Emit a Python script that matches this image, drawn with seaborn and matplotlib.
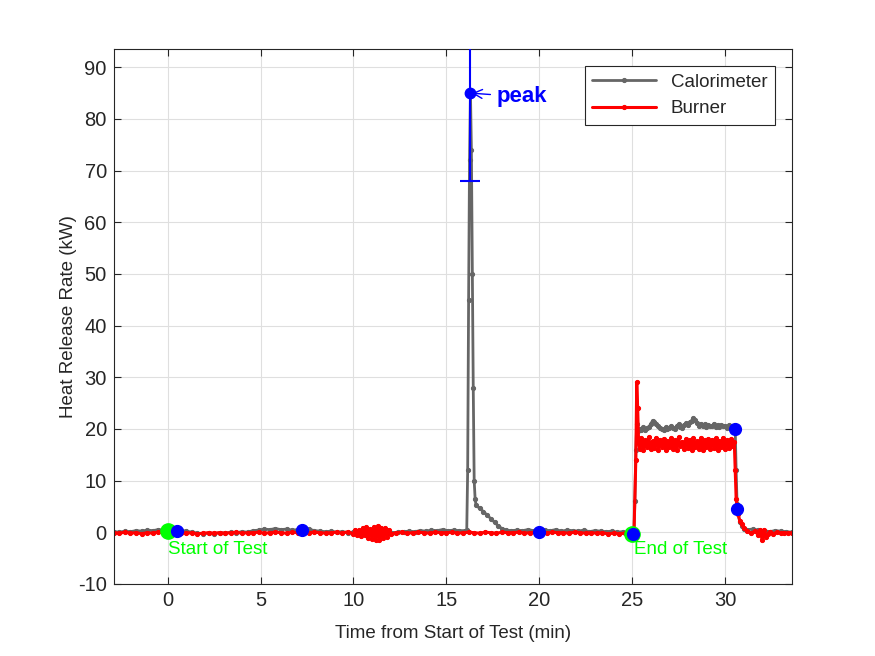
import pandas as pd
import matplotlib
matplotlib.use('Agg')
import matplotlib.pyplot as plt
import seaborn as sns

# Calorimeter heat release rate (kW) vs time from start of test (min)
cal_time = [-2.9, -2.6, -2.3, -2.0, -1.7, -1.4, -1.1, -0.8, -0.5, -0.2,
            0.1, 0.4, 0.7, 1.0, 1.3, 1.6, 1.9, 2.2, 2.5, 2.8,
            3.1, 3.4, 3.7, 4.0, 4.3, 4.6, 4.9, 5.2, 5.5, 5.8,
            6.1, 6.4, 6.7, 7.0, 7.3, 7.6, 7.9, 8.2, 8.5, 8.8,
            9.1, 9.4, 9.7, 10.0, 10.3, 10.6, 10.9, 11.2, 11.5, 11.8,
            12.1, 12.4, 12.7, 13.0, 13.3, 13.6, 13.9, 14.2, 14.5, 14.8,
            15.1, 15.4, 15.7, 16.0, 16.1, 16.15, 16.2, 16.25, 16.3, 16.35,
            16.4, 16.45, 16.5, 16.55, 16.6, 16.8, 17.0, 17.2, 17.4, 17.6,
            17.8, 18.0, 18.2, 18.5, 18.8, 19.1, 19.4, 19.7, 20.0, 20.3,
            20.6, 20.9, 21.2, 21.5, 21.8, 22.1, 22.4, 22.7, 23.0, 23.3,
            23.6, 23.9, 24.2, 24.5, 24.8, 25.0, 25.1, 25.15, 25.2, 25.25,
            25.3, 25.4, 25.5, 25.6, 25.7, 25.8, 25.9, 26.0, 26.1, 26.2,
            26.3, 26.4, 26.5, 26.6, 26.7, 26.8, 26.9, 27.0, 27.1, 27.2,
            27.3, 27.4, 27.5, 27.6, 27.7, 27.8, 27.9, 28.0, 28.1, 28.2,
            28.3, 28.4, 28.5, 28.6, 28.7, 28.8, 28.9, 29.0, 29.1, 29.2,
            29.3, 29.4, 29.5, 29.6, 29.7, 29.8, 29.9, 30.0, 30.1, 30.2,
            30.3, 30.4, 30.5, 30.55, 30.6, 30.65, 30.7, 30.8, 30.9, 31.0,
            31.2, 31.5, 31.8, 32.1, 32.4, 32.7, 33.0, 33.3, 33.6]
cal_hrr = [0.1, 0.0, 0.2, 0.1, 0.3, 0.2, 0.4, 0.3, 0.5, 0.4,
           0.5, 0.3, 0.4, 0.2, 0.0, -0.2, -0.3, -0.2, -0.3, -0.1,
           -0.2, 0.0, -0.1, 0.1, 0.0, 0.3, 0.4, 0.6, 0.5, 0.7,
           0.5, 0.6, 0.4, 0.5, 0.4, 0.6, 0.3, 0.2, 0.1, 0.2,
           0.0, 0.1, -0.1, 0.0, -0.2, -0.3, -0.2, -0.4, -0.2, -0.3,
           -0.1, 0.0, 0.1, 0.2, 0.1, 0.3, 0.2, 0.4, 0.3, 0.5,
           0.3, 0.4, 0.3, 0.3, 0.4, 12.0, 45.0, 72.0, 85.0, 74.0,
           50.0, 28.0, 10.0, 6.5, 5.2, 4.6, 4.0, 3.3, 2.6, 1.9,
           1.2, 0.7, 0.4, 0.3, 0.4, 0.3, 0.5, 0.3, 0.2, 0.4,
           0.3, 0.5, 0.2, 0.4, 0.3, 0.2, 0.4, 0.1, 0.3, 0.2,
           0.1, 0.2, 0.0, 0.1, -0.2, -0.3, -0.2, 6.0, 16.0, 21.0,
           19.6, 20.0, 19.7, 20.3, 19.8, 20.1, 20.4, 20.9, 21.6, 21.4,
           21.0, 20.5, 20.2, 20.0, 19.8, 20.3, 19.9, 20.1, 20.6, 20.2,
           20.0, 20.6, 20.9, 20.4, 20.2, 20.8, 21.1, 20.7, 21.3, 21.6,
           22.1, 21.7, 21.2, 20.6, 21.0, 20.5, 20.9, 20.4, 20.8, 20.6,
           20.5, 21.0, 20.4, 20.8, 20.3, 20.7, 20.5, 20.6, 20.2, 20.7,
           20.4, 20.5, 20.3, 20.0, 12.0, 5.5, 3.5, 2.0, 1.2, 0.7,
           0.5, 0.6, 0.4, 0.3, 0.1, 0.3, 0.2, 0.1, 0.0]

# Burner heat release rate (kW)
burner_time = [-2.9, -2.6, -2.3, -2.0, -1.7, -1.4, -1.1, -0.8, -0.5, -0.2,
               0.1, 0.4, 0.7, 1.0, 1.3, 1.6, 1.9, 2.2, 2.5, 2.8,
               3.1, 3.4, 3.7, 4.0, 4.3, 4.6, 4.9, 5.2, 5.5, 5.8,
               6.1, 6.4, 6.7, 7.0, 7.3, 7.6, 7.9, 8.2, 8.5, 8.8,
               9.1, 9.4, 9.7, 10.0, 10.1, 10.2, 10.3, 10.4, 10.5, 10.6,
               10.7, 10.8, 10.9, 11.0, 11.1, 11.2, 11.3, 11.4, 11.5, 11.6,
               11.7, 11.8, 11.9, 12.0, 12.3, 12.6, 12.9, 13.2, 13.5, 13.8,
               14.1, 14.4, 14.7, 15.0, 15.3, 15.6, 15.9, 16.2, 16.5, 16.8,
               17.1, 17.4, 17.7, 18.0, 18.3, 18.6, 18.9, 19.2, 19.5, 19.8,
               20.1, 20.4, 20.7, 21.0, 21.3, 21.6, 21.9, 22.2, 22.5, 22.8,
               23.1, 23.4, 23.7, 24.0, 24.3, 24.6, 24.9, 25.1, 25.2, 25.25,
               25.3, 25.35, 25.4, 25.5, 25.6, 25.7, 25.8, 25.9, 26.0, 26.1,
               26.2, 26.3, 26.4, 26.5, 26.6, 26.7, 26.8, 26.9, 27.0, 27.1,
               27.2, 27.3, 27.4, 27.5, 27.6, 27.7, 27.8, 27.9, 28.0, 28.1,
               28.2, 28.3, 28.4, 28.5, 28.6, 28.7, 28.8, 28.9, 29.0, 29.1,
               29.2, 29.3, 29.4, 29.5, 29.6, 29.7, 29.8, 29.9, 30.0, 30.1,
               30.2, 30.3, 30.4, 30.5, 30.55, 30.6, 30.65, 30.7, 30.8, 30.9,
               31.0, 31.2, 31.4, 31.6, 31.8, 31.9, 32.0, 32.1, 32.2, 32.3,
               32.4, 32.6, 32.8, 33.0, 33.2, 33.4, 33.6]
burner_hrr = [-0.1, -0.2, 0.0, -0.2, -0.1, -0.3, -0.1, -0.2, 0.0, -0.1,
              -0.2, 0.0, -0.1, -0.2, -0.1, -0.3, -0.2, -0.1, -0.2, -0.1,
              -0.2, -0.1, 0.0, -0.2, -0.1, -0.1, 0.0, -0.2, -0.1, 0.0,
              -0.1, -0.2, 0.0, -0.1, -0.2, -0.1, 0.0, -0.1, -0.2, -0.1,
              0.0, -0.2, 0.1, -0.3, 0.5, -0.6, 0.4, -0.8, 0.9, -0.5,
              1.0, -1.1, 0.6, -1.3, 1.1, -1.5, 1.2, -1.6, 0.9, -1.2,
              0.8, -0.9, 0.5, -0.4, -0.1, 0.0, -0.2, -0.1, 0.0, -0.1,
              -0.2, 0.0, -0.1, -0.1, 0.0, -0.2, -0.1, 0.0, -0.1, -0.2,
              0.0, -0.1, -0.2, 0.0, -0.1, -0.1, 0.0, -0.2, -0.1, 0.0,
              -0.1, -0.2, 0.0, -0.1, -0.1, -0.2, 0.0, -0.1, -0.2, -0.1,
              -0.2, -0.1, -0.3, -0.2, -0.3, -0.2, -0.4, -0.3, 14.0, 29.0,
              24.0, 17.5, 16.2, 18.2, 16.0, 17.8, 16.4, 18.4, 16.1, 17.6,
              16.3, 18.3, 16.0, 17.9, 16.5, 18.1, 15.9, 17.7, 16.4, 18.2,
              16.2, 17.8, 16.0, 18.4, 16.6, 17.5, 16.1, 18.0, 16.3, 17.9,
              16.0, 18.2, 16.5, 17.6, 16.2, 18.3, 15.9, 17.8, 16.4, 18.1,
              16.1, 17.9, 16.3, 18.2, 16.0, 17.7, 16.5, 18.3, 16.2, 17.8,
              16.3, 18.0, 16.6, 17.5, 12.0, 6.5, 5.0, 3.5, 2.2, 1.5,
              0.8, 0.3, -0.2, 0.2, -0.5, 0.4, -1.6, 0.5, -1.0, -0.3,
              0.1, -0.3, 0.0, -0.2, -0.1, -0.2, -0.1]

# marked points
blue_time = [0.48, 7.25, 20.0, 25.05, 30.55, 30.67]
blue_hrr = [0.2, 0.4, 0.0, -0.3, 20.0, 4.5]
green_time = [0.0, 25.0]
green_hrr = [0.3, -0.3]
peak_time = 16.3
peak_hrr = 85.0
peak_err = 17.0

sns.set_theme(style='ticks')
plt.rcParams['font.family'] = ['Liberation Sans', 'DejaVu Sans']
plt.rcParams['axes.unicode_minus'] = False

dark = '#262626'
cal_df = pd.DataFrame({'time': cal_time, 'hrr': cal_hrr})
burner_df = pd.DataFrame({'time': burner_time, 'hrr': burner_hrr})

fig = plt.figure(figsize=(8.75, 6.56), dpi=100)
ax = fig.add_axes([0.13, 0.11, 0.775, 0.815])

sns.lineplot(data=cal_df, x='time', y='hrr', ax=ax, color='#666666', lw=2.0,
             marker='.', ms=6, mec='#666666', estimator=None, label='Calorimeter')
sns.lineplot(data=burner_df, x='time', y='hrr', ax=ax, color='#ff0000', lw=2.2,
             marker='.', ms=6, mec='#ff0000', estimator=None, label='Burner')

ax.plot(green_time, green_hrr, 'o', color='#00ff00', ms=11, zorder=5)
ax.plot(blue_time, blue_hrr, 'o', color='#0000ff', ms=8.5, zorder=6)
ax.errorbar(peak_time, peak_hrr, yerr=peak_err, fmt='o', color='#0000ff', ms=7.5,
            elinewidth=1.5, capsize=7, capthick=1.5, zorder=7)
ax.annotate('peak', xy=(peak_time, peak_hrr), xytext=(17.7, 84.3), color='#0000ff',
            fontsize=16, fontweight='bold', va='center',
            arrowprops=dict(arrowstyle='->', color='#0000ff', lw=1, shrinkA=2, shrinkB=1))

ax.text(0.0, -1.8, 'Start of Test', color='#00ff00', fontsize=13.5, ha='left', va='top')
ax.text(25.1, -1.8, 'End of Test', color='#00ff00', fontsize=13.5, ha='left', va='top')

ax.set_xlim(-2.9, 33.6)
ax.set_ylim(-10, 93.5)
ax.set_xticks(range(0, 31, 5))
ax.set_yticks(range(-10, 91, 10))
ax.grid(True, color='#dfdfdf', lw=0.8)
ax.set_axisbelow(True)
for s in ax.spines.values():
    s.set_visible(True)
    s.set_color(dark)
    s.set_linewidth(0.8)
ax.tick_params(direction='in', top=True, right=True, length=5, width=0.8,
               colors=dark, labelsize=14.5, pad=5)
ax.set_xlabel('Time from Start of Test (min)', fontsize=13.5, color=dark, labelpad=11)
ax.set_ylabel('Heat Release Rate (kW)', fontsize=13.5, color=dark, labelpad=1)

leg = ax.legend(loc='upper right', fontsize=13.5, frameon=True, fancybox=False,
                edgecolor=dark, framealpha=1, borderaxespad=0.9, handlelength=3.4)
leg.get_frame().set_linewidth(0.8)

plt.savefig('out.png', dpi=100)
